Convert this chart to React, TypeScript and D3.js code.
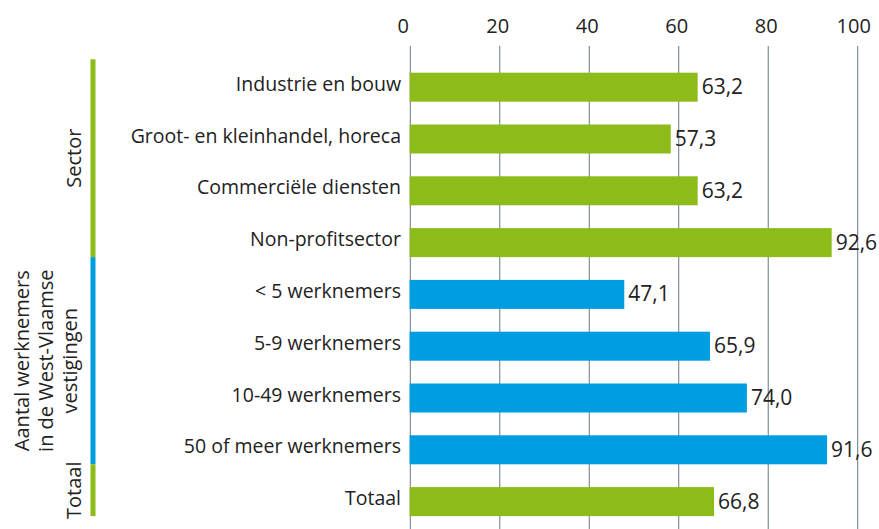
import React from "react";
import * as d3 from "d3";

const categories = [
  "Industrie en bouw",
  "Groot- en kleinhandel, horeca",
  "Commerciële diensten",
  "Non-profitsector",
  "< 5 werknemers",
  "5-9 werknemers",
  "10-49 werknemers",
  "50 of meer werknemers",
  "Totaal",
];
const values = [63.2, 57.3, 63.2, 92.6, 47.1, 65.9, 74.0, 91.6, 66.8];
const groupOf = ["sector", "sector", "sector", "sector", "size", "size", "size", "size", "total"];
const tickValues = [0, 20, 40, 60, 80, 100];

const groups = [
  { key: "sector", lines: ["Sector"], color: "#8dbb19" },
  { key: "size", lines: ["Aantal werknemers", "in de West-Vlaamse", "vestigingen"], color: "#009ee0" },
  { key: "total", lines: ["Totaal"], color: "#8dbb19" },
];

const W = 879;
const H = 529;
const FONT = "'Open Sans', 'Noto Sans', sans-serif";
const TEXT = "#222222";

export default function App() {
  const xAxis = d3.scaleLinear().domain([0, 100]).range([410.3, 857.7]);
  const xBar = d3.scaleLinear().domain([0, 100]).range([409.6, 865.4]);
  const y = d3
    .scaleBand<string>()
    .domain(categories)
    .range([61.3, 527.5])
    .paddingInner(0.44)
    .paddingOuter(0.22);
  const bh = y.bandwidth();
  const fmt = (v: number) => v.toFixed(1).replace(".", ",");

  const segs = groups.map((g) => {
    const idx = categories.map((c, i) => i).filter((i) => groupOf[i] === g.key);
    const last = categories[idx[idx.length - 1]];
    const end = (y(last) as number) + bh;
    return { ...g, end };
  });
  const firstTop = (y(categories[0]) as number) - 13.4;
  const segData = segs.map((s, i) => ({ ...s, start: i === 0 ? firstTop : segs[i - 1].end }));

  return (
    <svg
      width={W}
      height={H}
      style={{ position: "absolute", left: 0, top: 0, background: "#fff" }}
      fontFamily={FONT}
    >
      {tickValues.map((t) => (
        <line
          key={"g" + t}
          x1={xAxis(t)}
          x2={xAxis(t)}
          y1={46}
          y2={H}
          stroke="#6a7886"
          strokeWidth={1}
        />
      ))}
      {tickValues.map((t) => (
        <text
          key={"t" + t}
          x={xAxis(t) - (t === 0 ? 7 : t === 100 ? 4 : 2)}
          y={33}
          textAnchor="middle"
          fontSize={20}
          fill={TEXT}
        >
          {t}
        </text>
      ))}
      {categories.map((c, i) => {
        const g = groups.find((gg) => gg.key === groupOf[i])!;
        const yy = y(c) as number;
        const cy = yy + bh / 2;
        return (
          <g key={c}>
            <rect x={xBar(0)} y={yy} width={xBar(values[i]) - xBar(0)} height={bh} fill={g.color} />
            <text x={xBar(values[i]) + 4} y={cy + 7} fontSize={21} fill={TEXT}>
              {fmt(values[i])}
            </text>
            <text x={401} y={cy + 3.5} textAnchor="end" fontSize={19.5} fill={TEXT}>
              {c}
            </text>
          </g>
        );
      })}
      {segData.map((s) => {
        const cy = (s.start + s.end) / 2;
        const n = s.lines.length;
        return (
          <g key={s.key}>
            <rect x={90.5} y={s.start} width={5} height={s.end - s.start} fill={s.color} />
            {s.lines.map((ln, li) => {
              const bx = n === 1 ? 81 : 29 + li * 24;
              return (
                <text
                  key={li}
                  transform={`translate(${bx},${cy}) rotate(-90)`}
                  textAnchor="middle"
                  fontSize={20}
                  fill={TEXT}
                >
                  {ln}
                </text>
              );
            })}
          </g>
        );
      })}
    </svg>
  );
}
